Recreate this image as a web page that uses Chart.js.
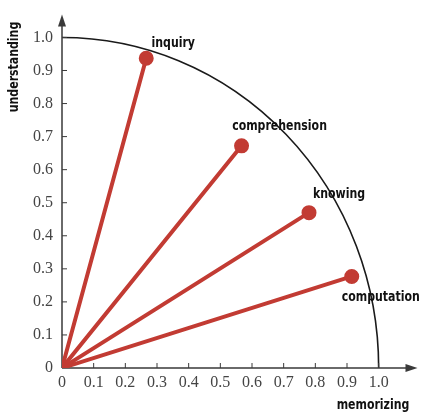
<!DOCTYPE html>
<html lang="en">

<head>
    <meta charset="UTF-8">
    <title>Memorizing vs understanding</title>
    <script src="https://cdn.jsdelivr.net/npm/chart.js"></script>
    <style>
        html, body { margin: 0; padding: 0; background: #fff; }
        .chart-box { width: 423px; height: 414px; }
    </style>
</head>

<body>
    <div class="chart-box"><canvas id="skillChart"></canvas></div>

    <script>
        // values
        const skills = ["inquiry", "comprehension", "knowing", "computation"];
        const memorizing = [0.266, 0.567, 0.78, 0.915];
        const understanding = [0.937, 0.672, 0.47, 0.277];
        const tickValues = [0, 0.1, 0.2, 0.3, 0.4, 0.5, 0.6, 0.7, 0.8, 0.9, 1.0];
        const tickLabels = ["0", "0.1", "0.2", "0.3", "0.4", "0.5", "0.6", "0.7", "0.8", "0.9", "1.0"];

        const red = "#c23b33";
        const axisColor = "#3a3a3a";
        const labelFont = "bold 14px 'DejaVu Sans Condensed', 'DejaVu Sans', sans-serif";
        const squeeze = 0.87; // labels are narrow and tall in the original

        // one ray per skill, from the origin to its point
        const datasets = skills.map((name, i) => ({
            label: name,
            data: [{ x: 0, y: 0 }, { x: memorizing[i], y: understanding[i] }],
            showLine: true,
            borderColor: red,
            backgroundColor: red,
            borderWidth: 4,
            pointRadius: [0, 5.5],
            pointHoverRadius: [0, 5.5],
            borderCapStyle: "round"
        }));

        // label offsets in pixels from each point
        const labelOffsets = [[27, -15], [38, -20], [30, -18], [29, 21]];

        function narrowText(ctx, text, cx, cy) {
            ctx.save();
            ctx.translate(cx, cy);
            ctx.scale(squeeze, 1);
            ctx.fillText(text, 0, 0);
            ctx.restore();
        }

        const decorations = {
            id: "decorations",
            beforeDatasetsDraw(chart) {
                const { ctx, scales: { x, y } } = chart;
                const x0 = x.getPixelForValue(0), y0 = y.getPixelForValue(0);
                const rx = x.getPixelForValue(1) - x0, ry = y0 - y.getPixelForValue(1);
                ctx.save();
                // unit quarter circle
                ctx.strokeStyle = "#1a1a1a";
                ctx.lineWidth = 1.6;
                ctx.beginPath();
                ctx.ellipse(x0, y0, rx, ry, 0, -Math.PI / 2, 0);
                ctx.stroke();

                // axes with arrows
                const top = chart.chartArea.top, right = chart.chartArea.right;
                ctx.strokeStyle = axisColor;
                ctx.fillStyle = axisColor;
                ctx.lineWidth = 1.5;
                ctx.beginPath();
                ctx.moveTo(x0, y0);
                ctx.lineTo(x0, top + 4);
                ctx.moveTo(x0, y0);
                ctx.lineTo(right - 4, y0);
                ctx.stroke();
                ctx.beginPath();
                ctx.moveTo(x0, top - 4);
                ctx.lineTo(x0 - 4, top + 8);
                ctx.lineTo(x0 + 4, top + 8);
                ctx.closePath();
                ctx.fill();
                ctx.beginPath();
                ctx.moveTo(right + 4, y0);
                ctx.lineTo(right - 8, y0 - 4);
                ctx.lineTo(right - 8, y0 + 4);
                ctx.closePath();
                ctx.fill();

                // small inward tick marks
                ctx.lineWidth = 1;
                tickValues.forEach(v => {
                    if (v === 0) return;
                    const px = x.getPixelForValue(v), py = y.getPixelForValue(v);
                    ctx.beginPath();
                    ctx.moveTo(px, y0);
                    ctx.lineTo(px, y0 - 5);
                    ctx.moveTo(x0, py);
                    ctx.lineTo(x0 + 5, py);
                    ctx.stroke();
                });
                ctx.restore();
            },
            afterDatasetsDraw(chart) {
                const { ctx, scales: { x, y } } = chart;
                ctx.save();
                ctx.fillStyle = "#111";
                ctx.font = labelFont;
                ctx.textAlign = "center";
                ctx.textBaseline = "middle";
                skills.forEach((name, i) => {
                    const px = x.getPixelForValue(memorizing[i]);
                    const py = y.getPixelForValue(understanding[i]);
                    narrowText(ctx, name, px + labelOffsets[i][0], py + labelOffsets[i][1]);
                });

                // axis names
                narrowText(ctx, "memorizing", 373, 405);
                ctx.translate(14, 67);
                ctx.rotate(-Math.PI / 2);
                narrowText(ctx, "understanding", 0, 0);
                ctx.restore();
            }
        };

        const keepTicks = scale => {
            scale.ticks = tickValues.map(v => ({ value: v }));
        };
        const tickText = v => tickLabels[tickValues.indexOf(Math.round(v * 10) / 10)] ?? "";
        const tickFont = { family: "'Liberation Serif', 'DejaVu Serif', serif", size: 16 };

        new Chart(document.getElementById("skillChart"), {
            type: "scatter",
            data: { datasets },
            options: {
                responsive: true,
                maintainAspectRatio: false,
                animation: false,
                layout: { padding: { top: 12, right: 7, left: 0, bottom: 0 } },
                plugins: {
                    legend: { display: false },
                    tooltip: { enabled: false }
                },
                scales: {
                    x: {
                        type: "linear",
                        min: 0,
                        max: 1.11,
                        afterBuildTicks: keepTicks,
                        afterFit: s => { s.height = 46; },
                        grid: { display: false, drawTicks: false },
                        border: { display: false },
                        ticks: { callback: tickText, color: "#444", font: tickFont, padding: 5, maxRotation: 0, autoSkip: false }
                    },
                    y: {
                        type: "linear",
                        min: 0,
                        max: 1.057,
                        afterBuildTicks: keepTicks,
                        afterFit: s => { s.width = 62; },
                        grid: { display: false, drawTicks: false },
                        border: { display: false },
                        ticks: { callback: tickText, color: "#444", font: tickFont, padding: 9, autoSkip: false }
                    }
                }
            },
            plugins: [decorations]
        });
    </script>
</body>

</html>
